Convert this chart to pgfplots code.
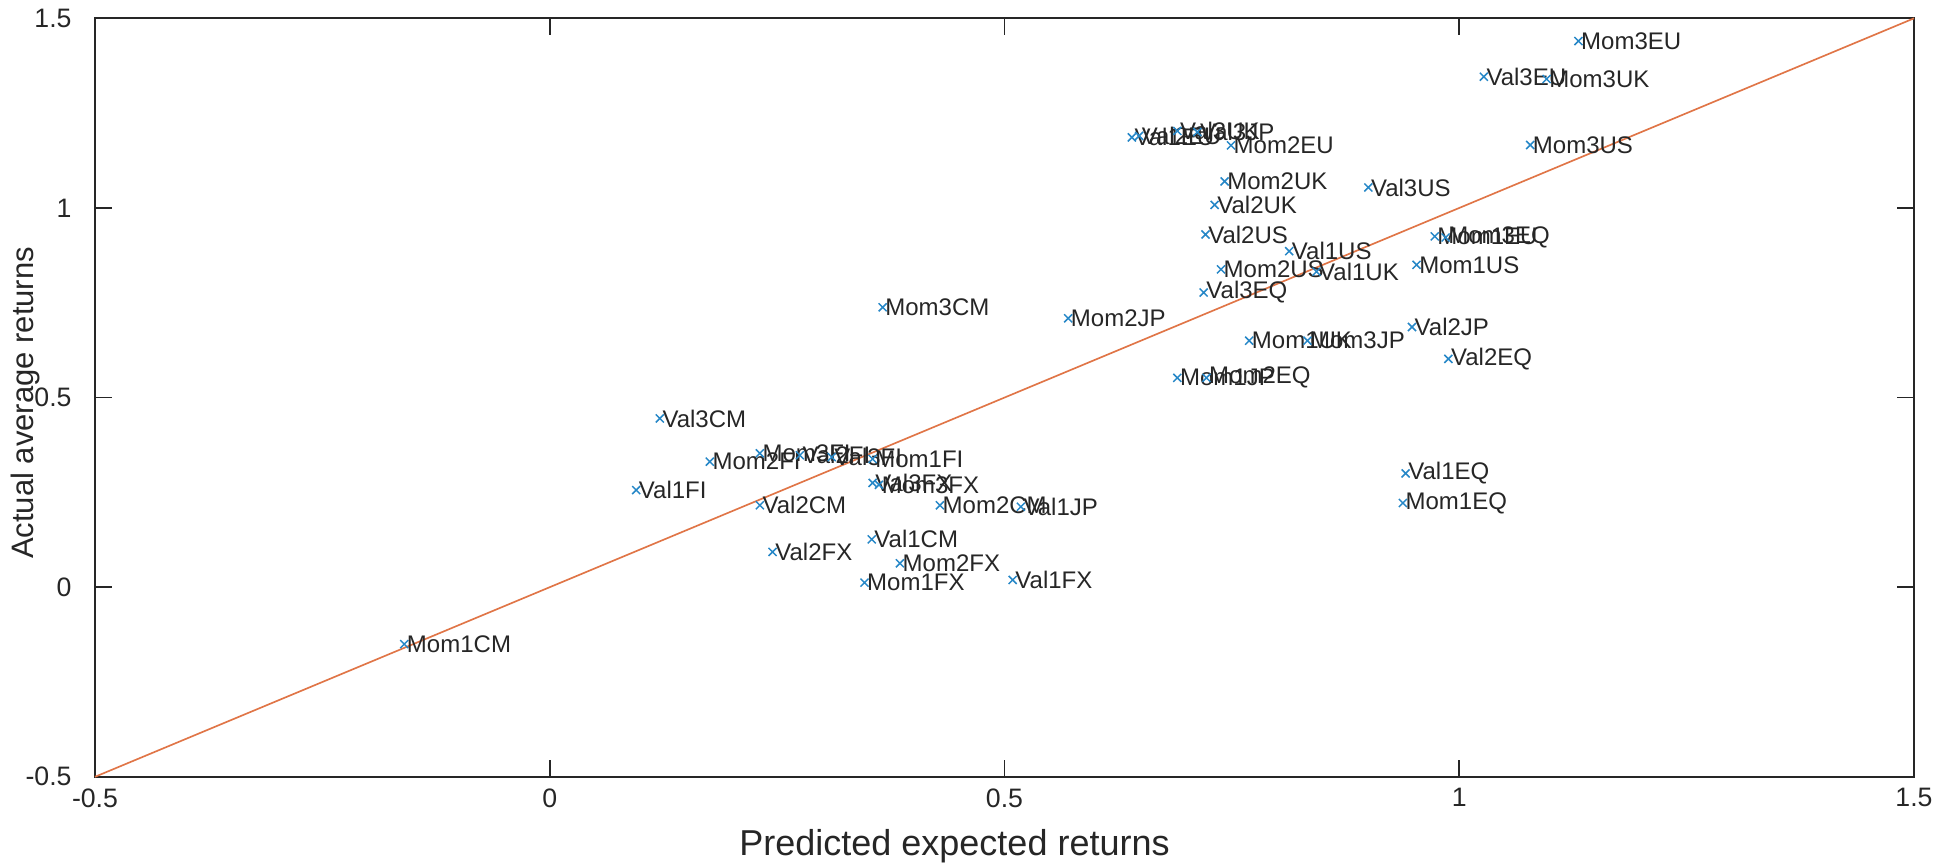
\documentclass[border=0pt]{standalone}
\usepackage{pgfplots}
\pgfplotsset{compat=1.18}
\usepackage{fontspec}
\setmainfont{Liberation Sans}
\definecolor{mblue}{rgb}{0,0.447,0.741}
\definecolor{morange}{rgb}{0.85,0.325,0.098}
\definecolor{axgray}{rgb}{0.15,0.15,0.15}
\pgfplotstableread{
x y label
1.131 1.440 Mom3EU
1.027 1.346 Val3EU
1.096 1.340 Mom3UK
1.078 1.166 Mom3US
0.900 1.054 Val3US
0.973 0.925 Mom1EU
0.985 0.922 Mom3EQ
0.953 0.850 Mom1US
0.948 0.686 Val2JP
0.988 0.602 Val2EQ
0.941 0.300 Val1EQ
0.938 0.222 Mom1EQ
0.640 1.186 Val1EU
0.648 1.190 Val2EU
0.690 1.203 Val3UK
0.712 1.200 Val3JP
0.749 1.165 Mom2EU
0.742 1.070 Mom2UK
0.731 1.008 Val2UK
0.721 0.930 Val2US
0.813 0.886 Val1US
0.738 0.838 Mom2US
0.843 0.832 Val1UK
0.719 0.777 Val3EQ
0.769 0.650 Mom1UK
0.833 0.650 Mom3JP
0.690 0.552 Mom1JP
0.722 0.552 Mom2EQ
0.570 0.709 Mom2JP
0.366 0.738 Mom3CM
0.121 0.445 Val3CM
0.176 0.331 Mom2FI
0.231 0.353 Mom3FI
0.275 0.348 Val2FI
0.310 0.343 Val3FI
0.355 0.338 Mom1FI
0.355 0.275 Val3FX
0.362 0.270 Mom3FX
0.095 0.256 Val1FI
0.231 0.216 Val2CM
0.429 0.216 Mom2CM
0.518 0.212 Val1JP
0.354 0.126 Val1CM
0.245 0.093 Val2FX
0.385 0.063 Mom2FX
0.346 0.012 Mom1FX
0.509 0.019 Val1FX
-0.160 -0.150 Mom1CM
}\pts
\begin{document}
\begin{tikzpicture}
\useasboundingbox (-28.5pt,-26.4pt) rectangle (551.6pt,233pt);
\begin{axis}[
  at={(0,0)}, anchor=south west,
  width=545.6pt, height=227.5pt, scale only axis,
  xmin=-0.5, xmax=1.5, ymin=-0.5, ymax=1.5,
  xtick={-0.5,0,0.5,1,1.5}, xticklabels={-0.5,0,0.5,1,1.5},
  ytick={-0.5,0,0.5,1,1.5}, yticklabels={-0.5,0,0.5,1,1.5},
  tick align=inside, major tick length=5pt,
  tick style={axgray, line width=0.5pt},
  axis line style={axgray, line width=0.6pt},
  ticklabel style={font=\fontsize{8}{9}\selectfont, text=axgray},
  yticklabel style={xshift=-3.5pt},
  xlabel={Predicted expected returns},
  ylabel={Actual average returns},
  xlabel style={font=\fontsize{10.8}{12}\selectfont, text=axgray, at={(axis description cs:0.4725,-0.0914)}, anchor=center},
  ylabel style={font=\fontsize{9.3}{11}\selectfont, text=axgray, at={(axis description cs:-0.0385,0.493)}, anchor=center},
  clip=false,
]
\addplot[morange!80, line width=0.5pt] coordinates {(-0.5,-0.5) (1.5,1.5)};
\addplot[only marks, mark=x, mark size=1.7pt,
  mark options={mblue!85, line width=0.45pt},
  nodes near coords, point meta=explicit symbolic,
  nodes near coords style={anchor=west, font=\fontsize{7.2}{8}\selectfont, text=black!85, inner sep=0.6pt}]
  table[x=x, y=y, meta=label] {\pts};
\end{axis}
\end{tikzpicture}
\end{document}
